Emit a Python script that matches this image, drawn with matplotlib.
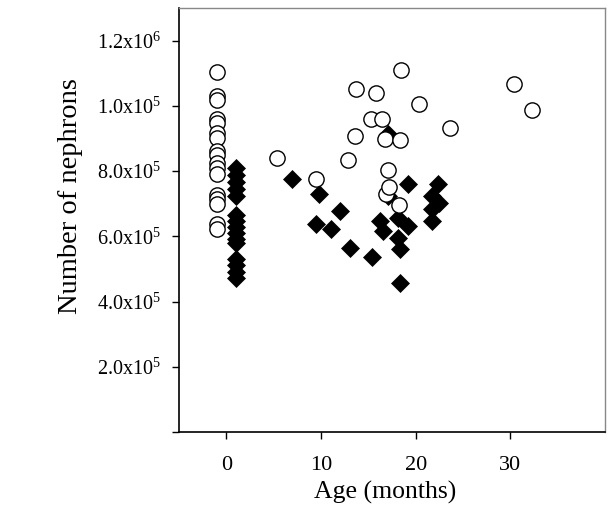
import matplotlib
matplotlib.use("Agg")
import matplotlib.pyplot as plt

# ---- data ----
# open circles
circ_age = [-1] * 17 + [5.4, 9.5, 12.9, 13.7, 13.6, 15.3, 15.8, 16.4, 16.8, 16.9,
                        17.1, 17.2, 18.2, 18.3, 18.5, 20.4, 23.6, 30.4, 32.3]
circ_nephrons = [1.105e6, 1.029e6, 1.017e6, 0.959e6, 0.947e6, 0.916e6, 0.901e6,
                 0.861e6, 0.849e6, 0.824e6, 0.809e6, 0.790e6, 0.727e6, 0.715e6,
                 0.700e6, 0.638e6, 0.622e6,
                 0.840e6, 0.776e6, 0.834e6, 1.053e6, 0.907e6, 0.959e6, 1.038e6,
                 0.959e6, 0.898e6, 0.730e6, 0.803e6, 0.751e6, 0.695e6, 0.895e6,
                 1.111e6, 1.005e6, 0.931e6, 1.066e6, 0.986e6]

# filled diamonds
diam_age = [1] * 15 + [6.9, 9.8, 12.0, 9.5, 11.1, 13.1, 15.4, 17.1, 17.1, 19.2,
                       22.4, 21.7, 22.5, 21.7, 21.7, 16.2, 16.5, 18.1, 19.2, 18.1,
                       18.3, 18.3]
diam_nephrons = [0.809e6, 0.788e6, 0.766e6, 0.745e6, 0.724e6, 0.666e6, 0.647e6,
                 0.629e6, 0.611e6, 0.592e6, 0.580e6, 0.531e6, 0.513e6, 0.492e6,
                 0.473e6,
                 0.776e6, 0.730e6, 0.678e6, 0.638e6, 0.623e6, 0.565e6, 0.537e6,
                 0.913e6, 0.724e6, 0.760e6, 0.760e6, 0.724e6, 0.702e6, 0.684e6,
                 0.647e6, 0.647e6, 0.617e6, 0.656e6, 0.632e6, 0.595e6, 0.562e6,
                 0.458e6]

x_ticks = [0, 10, 20, 30]
y_ticks = [0, 2e5, 4e5, 6e5, 8e5, 1.0e6, 1.2e6]
y_labels = ["", "2.0x10$^{5}$", "4.0x10$^{5}$", "6.0x10$^{5}$",
            "8.0x10$^{5}$", "1.0x10$^{5}$", "1.2x10$^{6}$"]

plt.rcParams["font.family"] = "Liberation Serif"
plt.rcParams["mathtext.fontset"] = "custom"
plt.rcParams["mathtext.rm"] = "Liberation Serif"
plt.rcParams["mathtext.it"] = "Liberation Serif:italic"

fig = plt.figure(figsize=(6.12, 5.19), dpi=100)
ax = fig.add_axes([0.2925, 0.1676, 0.6961, 0.817])

ax.plot(diam_age, diam_nephrons, "D", color="black", markersize=9.5,
        markeredgewidth=0.5, linestyle="none", zorder=2)
ax.plot(circ_age, circ_nephrons, "o", markerfacecolor="white",
        markeredgecolor="black", markersize=11, markeredgewidth=1.0,
        linestyle="none", zorder=3)

ax.set_xlim(-5, 40)
ax.set_ylim(0, 1.3e6)
ax.set_xticks(x_ticks)
ax.set_yticks(y_ticks)
ax.set_yticklabels(y_labels)
ax.tick_params(axis="both", direction="out", length=5, width=1, colors="black")
ax.tick_params(axis="x", pad=12, labelsize=16)
ax.tick_params(axis="y", pad=8, labelsize=14.5)

for side in ("left", "bottom"):
    ax.spines[side].set_linewidth(1.2)
for side in ("top", "right"):
    ax.spines[side].set_color("#888888")
    ax.spines[side].set_linewidth(1.0)

ax.set_xlabel("Age (months)", fontsize=18.5)
ax.set_ylabel("Number of nephrons", fontsize=20.5)
ax.xaxis.set_label_coords(0.484, -0.115)
ax.yaxis.set_label_coords(-0.225, 0.557)

fig.savefig("out.png", dpi=100)
